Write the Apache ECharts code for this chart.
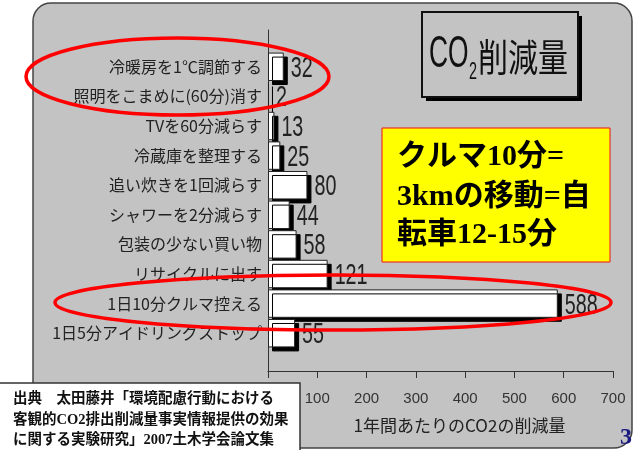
<!DOCTYPE html>
<html>
<head>
<meta charset="utf-8">
<script src="https://cdn.jsdelivr.net/npm/echarts@6/dist/echarts.min.js"></script>
<style>
  html, body { margin: 0; padding: 0; background: #fff; }
  #chart { width: 635px; height: 450px; }
</style>
</head>
<body>
<div id="chart"></div>
<script>
// Actions and the yearly CO2 reduction each one brings
const categories = [
  '冷暖房を1℃調節する',
  '照明をこまめに(60分)消す',
  'TVを60分減らす',
  '冷蔵庫を整理する',
  '追い炊きを1回減らす',
  'シャワーを2分減らす',
  '包装の少ない買い物',
  'リサイクルに出す',
  '1日10分クルマ控える',
  '1日5分アイドリングストップ'
];
const reductions = [32, 2, 13, 25, 80, 44, 58, 121, 588, 55];

// Value axis range
const axisMin = 0;
const axisMax = 700;
const axisStep = 100;

const axisTitle = '1年間あたりのCO2の削減量';
const noteLines = ['クルマ10分=', '3kmの移動=自', '転車12-15分'];
const sourceLines = [
  '出典　太田藤井「環境配慮行動における',
  '客観的CO2排出削減量事実情報提供の効果',
  'に関する実験研究」2007土木学会論文集'
];

const SANS = '"Liberation Sans", Arial, sans-serif';
const JP = '"Noto Sans CJK JP", sans-serif';
const SERIF_JP = '"Liberation Serif", "Noto Sans CJK JP", serif';
const PANEL = '#c3c3c3';

const chart = echarts.init(document.getElementById('chart'), null, { renderer: 'canvas' });

// value labels: narrow, tall digits placed just past each bar's shadow
function renderValueLabel(params, api) {
  const v = api.value(0);
  const p = api.coord([v, api.value(1)]);
  return {
    type: 'text',
    x: p[0] + 7,
    y: p[1] + 2,
    scaleX: 0.68,
    style: {
      text: String(v),
      font: '29px ' + SANS,
      fill: '#222',
      align: 'left',
      verticalAlign: 'middle'
    }
  };
}

const option = {
  animation: false,
  backgroundColor: '#ffffff',
  grid: [
    { left: 268, right: 22, top: 30, bottom: 79 },   // frame axes
    { left: 268, right: 22, top: 52, bottom: 102 }   // bars
  ],
  xAxis: [
    {
      gridIndex: 0, type: 'value', min: axisMin, max: axisMax, interval: axisStep,
      axisLine: { show: true, lineStyle: { color: '#333', width: 1 } },
      axisTick: { show: true, length: 7, lineStyle: { color: '#333' } },
      axisLabel: { margin: 20, color: '#333', fontFamily: SANS, fontSize: 15 },
      splitLine: { show: false },
      name: axisTitle, nameLocation: 'middle', nameGap: 46,
      nameTextStyle: { color: '#222', fontFamily: JP, fontSize: 17, padding: [0, 0, 0, 38] }
    },
    { gridIndex: 1, type: 'value', min: axisMin, max: axisMax, show: false }
  ],
  yAxis: [
    {
      gridIndex: 0, type: 'value',
      axisLine: { show: true, lineStyle: { color: '#333', width: 1 } },
      axisTick: { show: false }, axisLabel: { show: false }, splitLine: { show: false }
    },
    {
      gridIndex: 1, type: 'category', data: categories, inverse: true,
      axisLine: { show: false }, axisTick: { show: false },
      axisLabel: { margin: 6, color: '#222', fontFamily: JP, fontSize: 16 }
    }
  ],
  series: [
    {
      type: 'bar',
      xAxisIndex: 1, yAxisIndex: 1,
      data: reductions,
      barCategoryGap: '4%',
      itemStyle: {
        color: '#ffffff', borderColor: '#222', borderWidth: 1,
        shadowColor: '#000', shadowOffsetX: 4, shadowOffsetY: 4, shadowBlur: 0
      }
    },
    {
      type: 'custom',
      xAxisIndex: 1, yAxisIndex: 1,
      z: 3,
      data: reductions.map((v, i) => [v, i]),
      encode: { x: 0, y: 1 },
      renderItem: renderValueLabel
    }
  ],
  graphic: [
    // rounded grey panel
    {
      type: 'rect', z: -100, silent: true,
      shape: { x: 33, y: 3, width: 599, height: 445, r: 18 },
      style: { fill: PANEL, stroke: '#444', lineWidth: 1.5 }
    },
    // title box with a hard drop shadow
    {
      type: 'rect', z: 49,
      shape: { x: 426, y: 16, width: 156, height: 85 },
      style: { fill: '#000' }
    },
    {
      type: 'rect', z: 50,
      shape: { x: 422, y: 12, width: 156, height: 85 },
      style: { fill: PANEL, stroke: '#111', lineWidth: 2 }
    },
    { type: 'text', z: 51, x: 429, y: 55, scaleX: 0.6, style: { text: 'CO', textVerticalAlign: 'middle', font: '44px ' + SANS, fill: '#111' } },
    { type: 'text', z: 51, x: 469, y: 72, scaleX: 0.6, style: { text: '2', textVerticalAlign: 'middle', font: '24px ' + SANS, fill: '#111' } },
    { type: 'text', z: 51, x: 478, y: 57, scaleY: 1.25, style: { text: '削減量', textVerticalAlign: 'middle', font: '30px ' + JP, fill: '#111' } },
    // yellow note
    {
      type: 'rect', z: 50,
      shape: { x: 382, y: 128, width: 228, height: 134 },
      style: { fill: '#ffff00', stroke: '#ee1111', lineWidth: 1 }
    },
    { type: 'text', z: 51, style: { text: noteLines[0], x: 397, y: 157, textVerticalAlign: 'middle', font: 'bold 30px ' + SERIF_JP, fill: '#000' } },
    { type: 'text', z: 51, style: { text: noteLines[1], x: 397, y: 197, textVerticalAlign: 'middle', font: 'bold 30px ' + SERIF_JP, fill: '#000' } },
    { type: 'text', z: 51, style: { text: noteLines[2], x: 397, y: 235, textVerticalAlign: 'middle', font: 'bold 30px ' + SERIF_JP, fill: '#000' } },
    // source box
    {
      type: 'rect', z: 60,
      shape: { x: -2, y: 383, width: 302, height: 70 },
      style: { fill: '#ffffff', stroke: '#333', lineWidth: 1.5 }
    },
    { type: 'text', z: 61, style: { text: sourceLines[0], x: 13, y: 399, textVerticalAlign: 'middle', font: 'bold 14.5px ' + SERIF_JP, fill: '#111' } },
    { type: 'text', z: 61, style: { text: sourceLines[1], x: 13, y: 420, textVerticalAlign: 'middle', font: 'bold 14.5px ' + SERIF_JP, fill: '#111' } },
    { type: 'text', z: 61, style: { text: sourceLines[2], x: 13, y: 440, textVerticalAlign: 'middle', font: 'bold 14.5px ' + SERIF_JP, fill: '#111' } },
    // page number
    { type: 'text', z: 61, style: { text: '3', x: 626, y: 438, textAlign: 'center', textVerticalAlign: 'middle', font: 'bold 24px "Liberation Serif", serif', fill: '#1a1a80' } },
    // red highlight ellipses
    {
      type: 'ellipse', z: 100, silent: true,
      shape: { cx: 177.5, cy: 76.5, rx: 151.5, ry: 38.5 },
      style: { fill: 'none', stroke: '#ff0000', lineWidth: 3.5 }
    },
    {
      type: 'ellipse', z: 100, silent: true,
      shape: { cx: 333, cy: 302.5, rx: 278, ry: 27.5 },
      style: { fill: 'none', stroke: '#ff0000', lineWidth: 3.5 }
    }
  ]
};

chart.setOption(option);
</script>
</body>
</html>
